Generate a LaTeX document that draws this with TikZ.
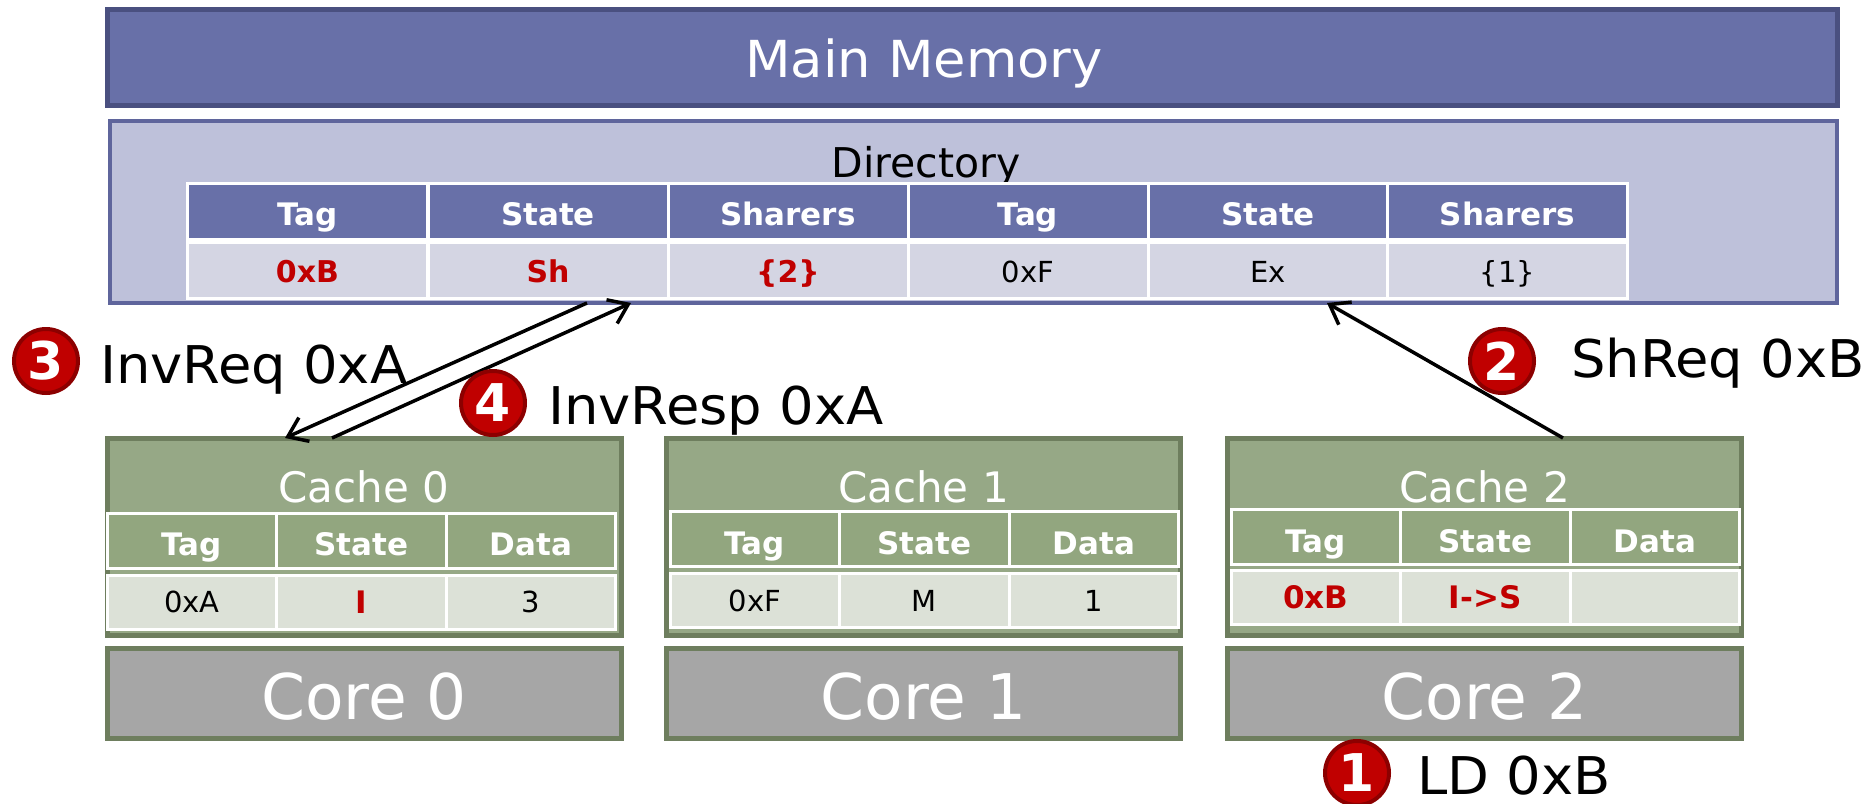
\documentclass[tikz,border=0pt]{standalone}
\usepackage{fontspec}
\setmainfont{DejaVu Sans}
\newfontfamily\widefont[FakeStretch=1.045]{DejaVu Sans}
\newfontfamily\mmfont[FakeStretch=1.035]{DejaVu Sans}
\usetikzlibrary{arrows.meta}
\definecolor{mmfill}{HTML}{6870A8}
\definecolor{mmedge}{HTML}{4A5080}
\definecolor{dirfill}{HTML}{BEC1DA}
\definecolor{diredge}{HTML}{5F659C}
\definecolor{ddatafill}{HTML}{D4D5E3}
\definecolor{cachefill}{HTML}{96A886}
\definecolor{cacheedge}{HTML}{6E7E5E}
\definecolor{cheadfill}{HTML}{92A67F}
\definecolor{cdatafill}{HTML}{DCE1D7}
\definecolor{corefill}{HTML}{A6A6A6}
\definecolor{myred}{HTML}{C00000}
\definecolor{badgeedge}{HTML}{8C0000}
\newcommand\myfs[1]{\fontsize{#1}{#1}\selectfont}
\tikzset{
  box/.style={rectangle, inner sep=0pt, outer sep=0pt},
  mmbox/.style={box, fill=mmfill, draw=mmedge, line width=5pt},
  dirbox/.style={box, fill=dirfill, draw=diredge, line width=4pt},
  cell/.style={box, draw=white, line width=3pt, text depth=0pt},
  dhead/.style={cell, fill=mmfill, text=white, font=\myfs{31}\bfseries,
    minimum width=240pt, minimum height=56pt, text height=29.6pt},
  ddata/.style={cell, fill=ddatafill, text=black, font=\myfs{29},
    minimum width=240pt, minimum height=56pt, text height=25.1pt},
  dred/.style={ddata, text=myred, font=\myfs{30}\bfseries, text height=25.9pt},
  cachebox/.style={box, fill=cachefill, draw=cacheedge, line width=5pt,
    minimum width=514pt, minimum height=197pt},
  corebox/.style={box, fill=corefill, draw=cacheedge, line width=5pt,
    minimum width=514pt, minimum height=90pt},
  chead/.style={cell, fill=cheadfill, text=white, font=\myfs{31}\bfseries,
    minimum width=169.5pt, minimum height=55pt, text height=30.6pt},
  cdata/.style={cell, fill=cdatafill, text=black, font=\myfs{29},
    minimum width=169.5pt, minimum height=54pt, text height=21.1pt},
  cred/.style={cdata, text=myred, font=\myfs{31}\bfseries, text height=22.6pt},
  cachelbl/.style={anchor=base, inner sep=0pt, text=white, font=\myfs{42}},
  corelbl/.style={anchor=base, inner sep=0pt, text=white, font=\myfs{63}},
  lbl/.style={anchor=base west, inner sep=0pt, text=black, font=\widefont\myfs{52}},
  badge/.style={circle, fill=myred, draw=badgeedge, line width=4pt,
    minimum size=64pt, inner sep=0pt, text=white, font=\myfs{52}\bfseries},
  arr/.style={line width=3.5pt, -{Straight Barb[length=18pt,width=26pt,line width=3.5pt]}}
}
% #1 id, #2 left x, #3 header centre y, #4 data centre y, #5 cells
\newcommand\cachetab[5]{%
  \node[chead] (#1h1) at (#2+84.75,#3) {Tag};
  \node[chead] (#1h2) at (#2+254.25,#3) {State};
  \node[chead] (#1h3) at (#2+423.75,#3) {Data};
  #5
}
\begin{document}
\begin{tikzpicture}[x=1pt,y=-1pt]
\useasboundingbox (0,0) rectangle (1873,803);

% Main memory
\node[mmbox, minimum width=1730pt, minimum height=96pt] (mm) at (972,57) {};
\node[anchor=base, inner sep=0pt, text=white, font=\mmfont\myfs{51}] (mmlabel) at (924,77) {Main Memory};

% Directory
\node[dirbox, minimum width=1727pt, minimum height=182pt] (dir) at (973.5,212) {};
\node[anchor=base, inner sep=0pt, font=\myfs{41}] (dirlabel) at (926,177) {Directory};

\node[dhead] (dh1) at (307.5,211) {Tag};
\node[dhead] (dh2) at (548,211) {State};
\node[dhead] (dh3) at (788,211) {Sharers};
\node[dhead] (dh4) at (1028,211) {Tag};
\node[dhead] (dh5) at (1268,211) {State};
\node[dhead] (dh6) at (1507.5,211) {Sharers};
\node[dred] (dd1) at (307.5,270) {0xB};
\node[dred] (dd2) at (548,270) {Sh};
\node[dred] (dd3) at (788,270) {\{2\}};
\node[ddata] (dd4) at (1028,270) {0xF};
\node[ddata] (dd5) at (1268,270) {Ex};
\node[ddata] (dd6) at (1507.5,270) {\{1\}};

% Caches
\node[cachebox] (cache0) at (364,536.5) {};
\node[cachebox] (cache1) at (923.5,536.5) {};
\node[cachebox] (cache2) at (1484.5,536.5) {};
\node[cachelbl] (c0lbl) at (364,502) {Cache 0};
\node[cachelbl] (c1lbl) at (923.5,502) {Cache 1};
\node[cachelbl] (c2lbl) at (1484.5,502) {Cache 2};

\cachetab{c0}{107}{540.5}{602}{%
  \node[cdata] (c0d1) at (107+84.75,602) {0xA};
  \node[cred] (c0d2) at (107+254.25,602) {I};
  \node[cdata] (c0d3) at (107+423.75,602) {3};}
\cachetab{c1}{670}{539}{600.5}{%
  \node[cdata] (c1d1) at (670+84.75,600.5) {0xF};
  \node[cdata] (c1d2) at (670+254.25,600.5) {M};
  \node[cdata] (c1d3) at (670+423.75,600.5) {1};}
\cachetab{c2}{1231}{537}{597}{%
  \node[cred] (c2d1) at (1231+84.75,597) {0xB};
  \node[cred] (c2d2) at (1231+254.25,597) {I->S};
  \node[cdata] (c2d3) at (1231+423.75,597) {};}

% Cores
\node[corebox] (core0) at (364,693) {};
\node[corebox] (core1) at (923.5,693) {};
\node[corebox] (core2) at (1484.5,693) {};
\node[corelbl] (k0lbl) at (364,719) {Core 0};
\node[corelbl] (k1lbl) at (923.5,719) {Core 1};
\node[corelbl] (k2lbl) at (1484.5,719) {Core 2};

% Arrows
\draw[arr] ([xshift=-386.5pt]dir.south) -- ([xshift=-79pt]cache0.north);
\draw[arr] ([xshift=-32pt]cache0.north) -- ([xshift=-342.5pt]dir.south);
\draw[arr] ([xshift=78.5pt]cache2.north) -- ([xshift=353.5pt]dir.south);

% Badges and labels
\node[badge] (b3) at (46,361) {3};
\node[lbl] (l3) at (100,383) {InvReq 0xA};
\node[badge] (b4) at (493,403) {4};
\node[lbl] (l4) at (548,424) {InvResp 0xA};
\node[badge] (b2) at (1502,361) {2};
\node[lbl] (l2) at (1571,377) {ShReq 0xB};
\node[badge] (b1) at (1357,773) {1};
\node[lbl] (l1) at (1417,794) {LD 0xB};
\end{tikzpicture}
\end{document}
